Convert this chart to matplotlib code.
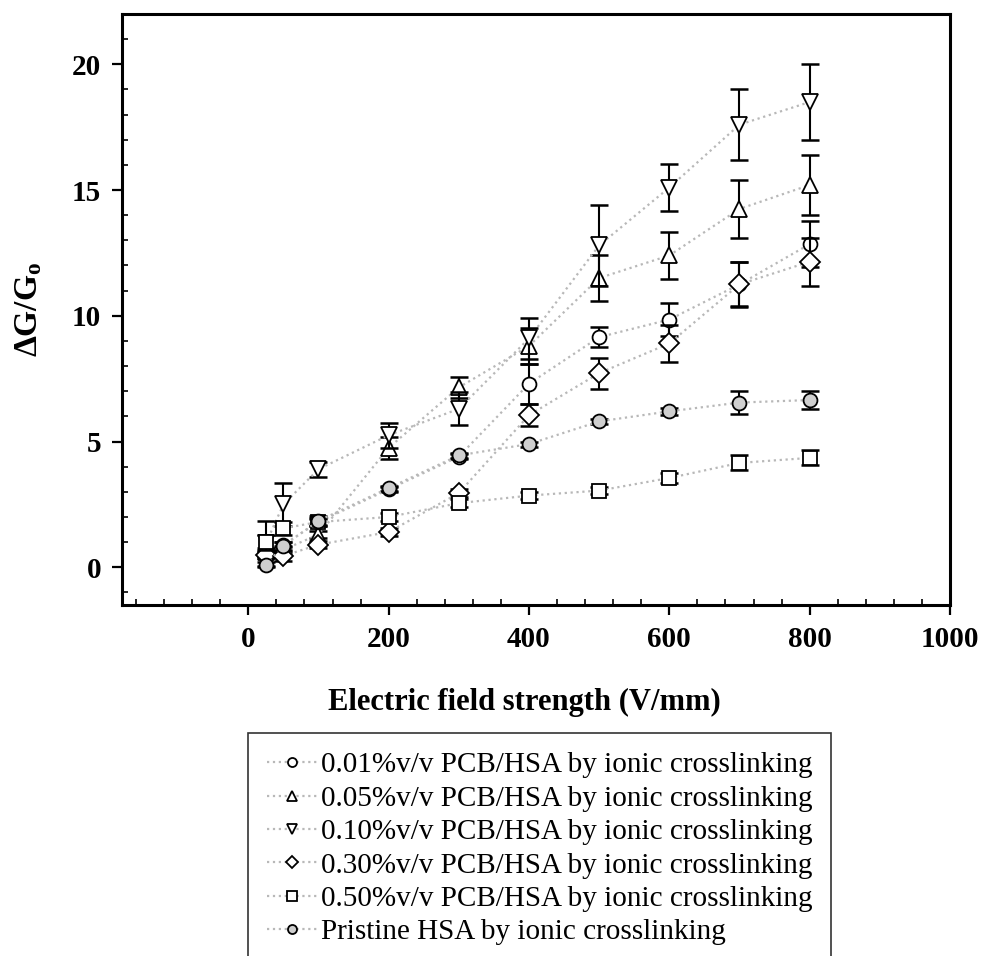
import matplotlib
matplotlib.use("Agg")
import matplotlib.pyplot as plt
from matplotlib.ticker import MultipleLocator

plt.rcParams['font.family'] = ['Liberation Serif', 'DejaVu Serif']
plt.rcParams['mathtext.fontset'] = 'custom'
plt.rcParams['mathtext.rm'] = 'Liberation Serif'
plt.rcParams['mathtext.bf'] = 'Liberation Serif:bold'

# field strength (V/mm)
field = [25, 50, 100, 200, 300, 400, 500, 600, 700, 800]

# dG/Go per sample
pcb001 = [0.5, 0.9, 1.8, 3.1, 4.4, 7.3, 9.15, 9.85, 11.25, 12.85]
pcb001_err = [0.1, 0.1, 0.1, 0.1, 0.1, 0.8, 0.4, 0.65, 0.88, 0.9]
pcb005 = [0.6, 0.7, 1.3, 4.75, 7.15, 8.8, 11.5, 12.4, 14.25, 15.2]
pcb005_err = [0.15, 0.15, 0.15, 0.45, 0.42, 0.7, 0.9, 0.95, 1.15, 1.2]
pcb010 = [0.95, 2.5, 3.9, 5.25, 6.3, 9.1, 12.8, 15.1, 17.6, 18.5]
pcb010_err = [0.9, 0.85, 0.3, 0.5, 0.65, 0.8, 1.6, 0.95, 1.4, 1.5]
pcb030 = [0.5, 0.45, 0.9, 1.4, 2.95, 6.05, 7.72, 8.9, 11.25, 12.15]
pcb030_err = [0.15, 0.2, 0.15, 0.15, 0.15, 0.45, 0.62, 0.73, 0.9, 0.95]
pcb050 = [1.0, 1.55, 1.8, 2.0, 2.55, 2.85, 3.05, 3.55, 4.15, 4.35]
pcb050_err = [0.3, 0.25, 0.15, 0.15, 0.15, 0.15, 0.15, 0.2, 0.3, 0.3]
pristine = [0.1, 0.85, 1.85, 3.15, 4.45, 4.9, 5.8, 6.2, 6.55, 6.65]
pristine_err = [0.1, 0.15, 0.2, 0.1, 0.1, 0.1, 0.1, 0.15, 0.45, 0.35]

labels = ["0.01%v/v PCB/HSA by ionic crosslinking",
          "0.05%v/v PCB/HSA by ionic crosslinking",
          "0.10%v/v PCB/HSA by ionic crosslinking",
          "0.30%v/v PCB/HSA by ionic crosslinking",
          "0.50%v/v PCB/HSA by ionic crosslinking",
          "Pristine HSA by ionic crosslinking"]

series = [(pcb001, pcb001_err, 'o', 10, 'white'),
          (pcb005, pcb005_err, '^', 11, 'white'),
          (pcb010, pcb010_err, 'v', 11, 'white'),
          (pcb030, pcb030_err, 'D', 10, 'white'),
          (pcb050, pcb050_err, 's', 10, 'white'),
          (pristine, pristine_err, 'o', 10, '#cfcfcf')]

fig = plt.figure(figsize=(9.82, 9.56), dpi=100)
ax = fig.add_axes([122/982, 1-605/956, (950-122)/982, (605-14)/956])

handles = []
for i, (y, e, m, ms, fc) in enumerate(series):
    ax.errorbar(field, y, yerr=e, fmt='none', ecolor='black', elinewidth=1.5,
                capsize=6.2, capthick=1.8, zorder=3 + i)
    h, = ax.plot(field, y, linestyle=':', color='#b8b8b8', linewidth=1.6,
                 marker=m, markersize=ms, markerfacecolor=fc,
                 markeredgecolor='black', markeredgewidth=1.3, zorder=3 + i,
                 label=labels[i])
    handles.append(h)

ax.set_xlim(-180, 1000)
ax.set_ylim(-1.5, 22)
ax.set_xticks([0, 200, 400, 600, 800, 1000])
ax.set_yticks([0, 5, 10, 15, 20])
ax.xaxis.set_minor_locator(MultipleLocator(40))
ax.yaxis.set_minor_locator(MultipleLocator(1))
ax.tick_params(which='major', direction='out', length=7, width=1.6,
               labelsize=21, pad=8)
ax.tick_params(which='minor', direction='in', length=4, width=1.2)
for lab in ax.get_xticklabels() + ax.get_yticklabels():
    lab.set_fontweight('bold')
for sp in ax.spines.values():
    sp.set_linewidth(2.2)

ax.set_xlabel("Electric field strength (V/mm)", fontsize=22, fontweight='bold')
ax.xaxis.set_label_coords((524-122)/828, (605-688)/591)
ax.set_ylabel(r"$\mathbf{\Delta G/G_o}$", fontsize=24)
ax.yaxis.set_label_coords((44-122)/828, 0.5)

leg = fig.legend(handles=handles, loc='upper left',
                 bbox_to_anchor=(248/982, 1-733/956), borderaxespad=0,
                 frameon=True, fancybox=False, fontsize=21, markerscale=0.65,
                 handlelength=1.7, handletextpad=0.15, labelspacing=0.24,
                 borderpad=0.65, edgecolor='black')
leg.get_frame().set_linewidth(1.2)

plt.savefig("out.png", dpi=100)
